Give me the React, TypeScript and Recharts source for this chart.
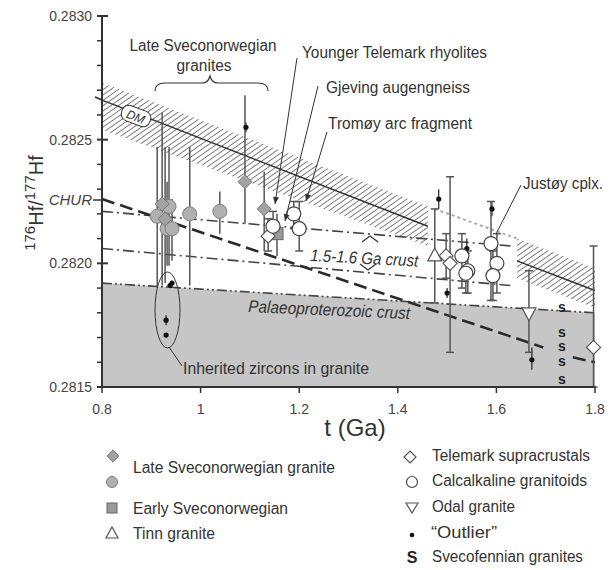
import { Area, ComposedChart, ErrorBar, Line, Scatter, XAxis, YAxis } from 'recharts';

const FONT = '"Liberation Sans", Arial, sans-serif';
const INK = '#333';

const xTicks = [0.8, 1, 1.2, 1.4, 1.6, 1.8];
const yTicks = [
  0.2815, 0.2816, 0.2817, 0.2818, 0.2819, 0.282, 0.2821, 0.2822,
  0.2823, 0.2824, 0.2825, 0.2826, 0.2827, 0.2828, 0.2829, 0.283,
];
const yMajor = [0.2815, 0.282, 0.2825, 0.283];

// model curves (t in Ga, v = 176Hf/177Hf)
const dmLine = [
  { t: 0.8, v: 0.28266 },
  { t: 1.461, v: 0.28215 },
];
const dmLineRight = [
  { t: 1.642, v: 0.28201 },
  { t: 1.8, v: 0.28189 },
];
const dmBand = [
  { t: 0.8, band: [0.28254, 0.28273] },
  { t: 1.461, band: [0.28207, 0.28223] },
];
const dmBandRight = [
  { t: 1.642, band: [0.28194, 0.2821] },
  { t: 1.8, band: [0.28182, 0.28198] },
];
const dmGapEdge = [
  { t: 1.475, v: 0.28222 },
  { t: 1.642, v: 0.2821 },
];
const churLine = [
  { t: 0.8, v: 0.28226 },
  { t: 1.695, v: 0.28166 },
];
const churLineRight = [
  { t: 1.755, v: 0.28162 },
  { t: 1.8, v: 0.2816 },
];
const crustUpper = [
  { t: 0.8, v: 0.28221 },
  { t: 1.63, v: 0.28207 },
];
const crustLower = [
  { t: 0.8, v: 0.28206 },
  { t: 1.63, v: 0.28191 },
];
const palaeoArea = [
  { t: 0.8, band: [0.2815, 0.28192] },
  { t: 1.8, band: [0.2815, 0.2818] },
];

// samples: value with the ends of its error bar
const lateCircles = [
  { t: 0.912, v: 0.28219, lo: 0.2819, hi: 0.28247 },
  { t: 0.936, v: 0.28223, lo: 0.28199, hi: 0.28247 },
  { t: 0.932, v: 0.28214, lo: 0.28199, hi: 0.28233 },
  { t: 0.942, v: 0.28214, lo: 0.28201, hi: 0.28226 },
  { t: 0.978, v: 0.2822, lo: 0.28191, hi: 0.28247 },
  { t: 1.039, v: 0.28221, lo: 0.28212, hi: 0.28229 },
];
const lateDiamonds = [
  { t: 0.922, v: 0.28224, lo: 0.28191, hi: 0.28261 },
  { t: 0.928, v: 0.28218, lo: 0.28192, hi: 0.28247 },
  { t: 1.09, v: 0.28233, lo: 0.28216, hi: 0.28268 },
  { t: 1.129, v: 0.28222, lo: 0.28205, hi: 0.28237 },
];
const earlySveco = [{ t: 1.155, v: 0.28212, lo: 0.28203, hi: 0.2822 }];
const tinnGranite = [{ t: 1.475, v: 0.28203, lo: 0.28184, hi: 0.28222 }];
const telemarkSupra = [
  { t: 1.137, v: 0.28211, lo: 0.28205, hi: 0.28218 },
  { t: 1.498, v: 0.28203, lo: 0.28194, hi: 0.28212 },
  { t: 1.506, v: 0.282, lo: 0.28164, hi: 0.28235 },
  { t: 1.797, v: 0.28166, lo: 0.2815, hi: 0.28207 },
];
const calcalkaline = [
  { t: 1.147, v: 0.28215, lo: 0.28211, hi: 0.28221 },
  { t: 1.189, v: 0.2822, lo: 0.28214, hi: 0.28225 },
  { t: 1.2, v: 0.28214, lo: 0.28205, hi: 0.28225 },
  { t: 1.53, v: 0.28203, lo: 0.2819, hi: 0.28212 },
  { t: 1.542, v: 0.28197, lo: 0.28188, hi: 0.28205 },
  { t: 1.538, v: 0.28196, lo: 0.28188, hi: 0.28204 },
  { t: 1.589, v: 0.28208, lo: 0.28185, hi: 0.28225 },
  { t: 1.601, v: 0.282, lo: 0.28188, hi: 0.28212 },
  { t: 1.593, v: 0.28195, lo: 0.28185, hi: 0.28205 },
];
const odalGranite = [{ t: 1.666, v: 0.2818, lo: 0.28164, hi: 0.28197 }];
const outliers = [
  { t: 1.092, v: 0.28255, lo: 0.28253, hi: 0.28257 },
  { t: 0.942, v: 0.28192, lo: 0.28191, hi: 0.28193 },
  { t: 0.938, v: 0.28191, lo: 0.2819, hi: 0.28192 },
  { t: 0.93, v: 0.28177, lo: 0.28175, hi: 0.28179 },
  { t: 0.93, v: 0.28171, lo: 0.28171, hi: 0.28171 },
  { t: 1.483, v: 0.28226, lo: 0.28222, hi: 0.2823 },
  { t: 1.5, v: 0.28188, lo: 0.28186, hi: 0.2819 },
  { t: 1.54, v: 0.28206, lo: 0.28202, hi: 0.2821 },
  { t: 1.591, v: 0.28222, lo: 0.28219, hi: 0.28225 },
  { t: 1.672, v: 0.28161, lo: 0.28157, hi: 0.28166 },
];
const svecofennian = [
  { t: 1.733, v: 0.28182 },
  { t: 1.733, v: 0.28172 },
  { t: 1.733, v: 0.28166 },
  { t: 1.733, v: 0.2816 },
  { t: 1.733, v: 0.28153 },
];

const withErr = (rows: { t: number; v: number; lo: number; hi: number }[]) =>
  rows.map((r) => ({ ...r, err: [r.v - r.lo, r.hi - r.v] }));

const diamondPts = (cx: number, cy: number, r: number) =>
  `${cx},${cy - r} ${cx + r},${cy} ${cx},${cy + r} ${cx - r},${cy}`;

const GrayDiamond = ({ cx, cy }: any) => (
  <polygon points={diamondPts(cx, cy, 7)} fill="#a3a3a3" stroke="#7a7a7a" strokeWidth={1} />
);
const GrayCircle = ({ cx, cy }: any) => <circle cx={cx} cy={cy} r={7} fill="#b0b0b0" stroke="#808080" strokeWidth={1} />;
const GraySquare = ({ cx, cy }: any) => (
  <rect x={cx - 6} y={cy - 6} width={12} height={12} fill="#9a9a9a" stroke="#666" strokeWidth={1} />
);
const OpenTriangle = ({ cx, cy }: any) => (
  <polygon points={`${cx},${cy - 8} ${cx + 7},${cy + 5} ${cx - 7},${cy + 5}`} fill="#fff" stroke="#555" strokeWidth={1.2} />
);
const OpenDownTriangle = ({ cx, cy }: any) => (
  <polygon points={`${cx},${cy + 8} ${cx + 7},${cy - 5} ${cx - 7},${cy - 5}`} fill="#fff" stroke="#555" strokeWidth={1.2} />
);
const OpenDiamond = ({ cx, cy }: any) => (
  <polygon points={diamondPts(cx, cy, 7)} fill="#fff" stroke="#555" strokeWidth={1.2} />
);
const OpenCircle = ({ cx, cy }: any) => <circle cx={cx} cy={cy} r={7} fill="#fff" stroke="#444" strokeWidth={1.2} />;
const Dot = ({ cx, cy }: any) => <circle cx={cx} cy={cy} r={2.6} fill="#111" />;
const SMark = ({ cx, cy }: any) => (
  <text x={cx} y={cy + 4} textAnchor="middle" fontSize={14} fontWeight="bold" fill="#222" fontFamily={FONT}>
    s
  </text>
);

function YTick(props: any) {
  const { x, y, payload } = props;
  const major = yMajor.some((m) => Math.abs(m - payload.value) < 1e-7);
  return (
    <g>
      <line x1={x - 5} x2={major ? x + 6 : x} y1={y} y2={y} stroke={INK} strokeWidth={major ? 2 : 1.5} />
      {major && (
        <text x={x - 10} y={y + 5} textAnchor="end" fontSize={14} fill="#444" fontFamily={FONT}>
          {payload.value.toFixed(4)}
        </text>
      )}
    </g>
  );
}

function XTick(props: any) {
  const { x, y, payload } = props;
  return (
    <g>
      <line x1={x} x2={x} y1={y} y2={y + 6} stroke={INK} strokeWidth={1.5} />
      <text x={x} y={y + 27} textAnchor="middle" fontSize={14} fill="#444" fontFamily={FONT}>
        {String(payload.value)}
      </text>
    </g>
  );
}

function Annotations() {
  const t = { fontFamily: FONT, fill: INK, fontSize: 16 } as const;
  return (
    <svg width={611} height={570} style={{ position: 'absolute', left: 0, top: 0, pointerEvents: 'none' }}>
      <defs>
        <marker id="arr" markerWidth="8" markerHeight="8" refX="7" refY="4" orient="auto" markerUnits="userSpaceOnUse">
          <path d="M0,1 L7,4 L0,7 Z" fill={INK} />
        </marker>
      </defs>

      {/* y axis title */}
      <text transform="rotate(-90, 43, 203)" x={43} y={203} textAnchor="middle" fontFamily={FONT} fill={INK} fontSize={20}>
        <tspan fontSize={15} dy={-8}>176</tspan>
        <tspan dy={8}>Hf/</tspan>
        <tspan fontSize={15} dy={-8}>177</tspan>
        <tspan dy={8}>Hf</tspan>
      </text>
      <text x={355} y={436} textAnchor="middle" fontFamily={FONT} fill={INK} fontSize={24}>
        t (Ga)
      </text>

      {/* CHUR / DM labels */}
      <text x={92} y={205} textAnchor="end" fontFamily={FONT} fill="#444" fontSize={15} fontStyle="italic">
        CHUR
      </text>
      <line x1={93} x2={102} y1={200} y2={200} stroke={INK} strokeWidth={1.5} />
      <line x1={95} x2={102} y1={97} y2={100} stroke={INK} strokeWidth={1.5} />
      <g transform="rotate(21, 136, 116)">
        <rect x={121} y={108} width={30} height={16} rx={7} fill="#fff" stroke={INK} strokeWidth={1} />
        <text x={136} y={121} textAnchor="middle" fontFamily={FONT} fill={INK} fontSize={12} fontStyle="italic">
          DM
        </text>
      </g>

      {/* group labels */}
      <text {...t} x={203} y={51} textAnchor="middle" textLength={147} lengthAdjust="spacingAndGlyphs">
        Late Sveconorwegian
      </text>
      <text {...t} x={204} y={71} textAnchor="middle" textLength={55} lengthAdjust="spacingAndGlyphs">
        granites
      </text>
      <path d="M155,91 Q155,83 165,83 L202,83 Q208,83 210,76 Q212,83 218,83 L258,83 Q268,83 268,91" fill="none" stroke={INK} strokeWidth={1.2} />

      <text {...t} x={302} y={58} textLength={185} lengthAdjust="spacingAndGlyphs">
        Younger Telemark rhyolites
      </text>
      <line x1={297} y1={58} x2={275} y2={204} stroke={INK} strokeWidth={1} markerEnd="url(#arr)" />
      <text {...t} x={326} y={93} textLength={144} lengthAdjust="spacingAndGlyphs">
        Gjeving augengneiss
      </text>
      <line x1={318} y1={86} x2={285} y2={221} stroke={INK} strokeWidth={1} markerEnd="url(#arr)" />
      <text {...t} x={328} y={129} textLength={144} lengthAdjust="spacingAndGlyphs">
        Tromøy arc fragment
      </text>
      <line x1={327} y1={132} x2={306} y2={201} stroke={INK} strokeWidth={1} markerEnd="url(#arr)" />
      <text {...t} x={523} y={189} textLength={80} lengthAdjust="spacingAndGlyphs">
        Justøy cplx.
      </text>
      <line x1={521} y1={185} x2={496} y2={234} stroke={INK} strokeWidth={1} />

      {/* crust labels */}
      <text {...t} x={310} y={261} fontSize={17} fontStyle="italic" transform="rotate(3, 310, 261)" textLength={108} lengthAdjust="spacingAndGlyphs">
        1.5-1.6 Ga crust
      </text>
      <path d="M362,242 L370,236 L378,242" fill="none" stroke={INK} strokeWidth={1.2} />
      <path d="M360,264 L368,270 L376,264" fill="none" stroke={INK} strokeWidth={1.2} />
      <text {...t} x={248} y={312} fontSize={17} fontStyle="italic" transform="rotate(2.5, 248, 312)" textLength={162} lengthAdjust="spacingAndGlyphs">
        Palaeoproterozoic crust
      </text>

      {/* inherited zircons */}
      <ellipse cx={167.5} cy={310} rx={12.5} ry={38} fill="none" stroke={INK} strokeWidth={1} />
      <line x1={169} y1={347} x2={182} y2={366} stroke={INK} strokeWidth={1} />
      <text {...t} x={183} y={374} textLength={186} lengthAdjust="spacingAndGlyphs">
        Inherited  zircons in granite
      </text>

      {/* legend */}
      <polygon points={diamondPts(113, 456, 6)} fill="#a3a3a3" stroke="#7a7a7a" strokeWidth={1} />
      <circle cx={112} cy={482} r={5.5} fill="#b0b0b0" stroke="#808080" strokeWidth={1} />
      <text {...t} x={133} y={473} textLength={202} lengthAdjust="spacingAndGlyphs">
        Late Sveconorwegian granite
      </text>
      <rect x={107} y={503} width={10} height={10} fill="#9a9a9a" stroke="#666" />
      <text {...t} x={133} y={514} textLength={155} lengthAdjust="spacingAndGlyphs">
        Early Sveconorwegian
      </text>
      <polygon points="112,527 118,538 106,538" fill="#fff" stroke="#555" strokeWidth={1.2} />
      <text {...t} x={133} y={539} textLength={82} lengthAdjust="spacingAndGlyphs">
        Tinn granite
      </text>

      <polygon points={diamondPts(410, 457, 6)} fill="#fff" stroke="#555" strokeWidth={1.2} />
      <text {...t} x={432} y={461} textLength={158} lengthAdjust="spacingAndGlyphs">
        Telemark supracrustals
      </text>
      <circle cx={412} cy={482} r={5.5} fill="#fff" stroke="#444" strokeWidth={1.2} />
      <text {...t} x={432} y={486} textLength={155} lengthAdjust="spacingAndGlyphs">
        Calcalkaline granitoids
      </text>
      <polygon points="412,513 418,503 406,503" fill="#fff" stroke="#555" strokeWidth={1.2} />
      <text {...t} x={432} y={512} textLength={83} lengthAdjust="spacingAndGlyphs">
        Odal granite
      </text>
      <circle cx={412} cy={535} r={2.3} fill="#111" />
      <text {...t} x={431} y={538} textLength={66} lengthAdjust="spacingAndGlyphs">
        “Outlier”
      </text>
      <text x={412} y={563} textAnchor="middle" fontFamily={FONT} fill="#222" fontSize={16} fontWeight="bold">
        S
      </text>
      <text {...t} x={432} y={562} textLength={151} lengthAdjust="spacingAndGlyphs">
        Svecofennian granites
      </text>
    </svg>
  );
}

export default function App() {
  const errStroke = '#555';
  return (
    <div style={{ position: 'absolute', left: 0, top: 0, width: 611, height: 570, background: '#fff' }}>
      <svg width={0} height={0} style={{ position: 'absolute' }}>
        <defs>
          <pattern id="hatch" width="4.4" height="4.4" patternUnits="userSpaceOnUse" patternTransform="rotate(55)">
            <line x1={0} y1={0} x2={0} y2={4.4} stroke="#3c3c3c" strokeWidth={1.3} />
          </pattern>
        </defs>
      </svg>
      <ComposedChart width={611} height={570} margin={{ top: 16, right: 16, bottom: 143, left: 0 }}>
        <XAxis
          type="number"
          dataKey="t"
          domain={[0.8, 1.8]}
          ticks={xTicks}
          interval={0}
          height={40}
          tickSize={0}
          tickMargin={0}
          tickLine={false}
          axisLine={{ stroke: INK, strokeWidth: 2 }}
          tick={<XTick />}
        />
        <YAxis
          type="number"
          domain={[0.2815, 0.283]}
          ticks={yTicks}
          interval={0}
          width={102}
          tickSize={0}
          tickMargin={0}
          tickLine={false}
          axisLine={{ stroke: INK, strokeWidth: 2 }}
          tick={<YTick />}
        />

        <Area data={palaeoArea} dataKey="band" type="linear" fill="#c6c6c6" fillOpacity={1} stroke="none" isAnimationActive={false} />
        <Area data={dmBand} dataKey="band" type="linear" fill="url(#hatch)" fillOpacity={1} stroke="none" isAnimationActive={false} />
        <Area data={dmBandRight} dataKey="band" type="linear" fill="url(#hatch)" fillOpacity={1} stroke="none" isAnimationActive={false} />

        <Line data={palaeoArea.map((d) => ({ t: d.t, v: d.band[1] }))} dataKey="v" type="linear" stroke="#444" strokeWidth={1.6} strokeDasharray="10 3 2 3 2 3" dot={false} isAnimationActive={false} />
        <Line data={crustUpper} dataKey="v" type="linear" stroke="#444" strokeWidth={1.6} strokeDasharray="11 4 2 4" dot={false} isAnimationActive={false} />
        <Line data={crustLower} dataKey="v" type="linear" stroke="#444" strokeWidth={1.6} strokeDasharray="11 4 2 4" dot={false} isAnimationActive={false} />
        <Line data={dmGapEdge} dataKey="v" type="linear" stroke="#aaa" strokeWidth={2} strokeDasharray="3 3" dot={false} isAnimationActive={false} />
        <Line data={dmLine} dataKey="v" type="linear" stroke={INK} strokeWidth={1.5} dot={false} isAnimationActive={false} />
        <Line data={dmLineRight} dataKey="v" type="linear" stroke={INK} strokeWidth={1.5} dot={false} isAnimationActive={false} />
        <Line data={churLine} dataKey="v" type="linear" stroke="#2a2a2a" strokeWidth={2.6} strokeDasharray="13 6" dot={false} isAnimationActive={false} />
        <Line data={churLineRight} dataKey="v" type="linear" stroke="#2a2a2a" strokeWidth={2.6} strokeDasharray="13 6" dot={false} isAnimationActive={false} />

        <Scatter data={withErr(outliers)} dataKey="v" shape={Dot} isAnimationActive={false}>
          <ErrorBar dataKey="err" direction="y" width={0} stroke="#222" strokeWidth={1.2} />
        </Scatter>
        <Scatter data={withErr(lateCircles)} dataKey="v" shape={GrayCircle} isAnimationActive={false}>
          <ErrorBar dataKey="err" direction="y" width={0} stroke={errStroke} strokeWidth={1.5} />
        </Scatter>
        <Scatter data={withErr(lateDiamonds)} dataKey="v" shape={GrayDiamond} isAnimationActive={false}>
          <ErrorBar dataKey="err" direction="y" width={0} stroke={errStroke} strokeWidth={1.5} />
        </Scatter>
        <Scatter data={withErr(earlySveco)} dataKey="v" shape={GraySquare} isAnimationActive={false}>
          <ErrorBar dataKey="err" direction="y" width={0} stroke={errStroke} strokeWidth={1.5} />
        </Scatter>
        <Scatter data={withErr(telemarkSupra)} dataKey="v" shape={OpenDiamond} isAnimationActive={false}>
          <ErrorBar dataKey="err" direction="y" width={4} stroke={errStroke} strokeWidth={1.5} />
        </Scatter>
        <Scatter data={withErr(calcalkaline)} dataKey="v" shape={OpenCircle} isAnimationActive={false}>
          <ErrorBar dataKey="err" direction="y" width={4} stroke={errStroke} strokeWidth={1.5} />
        </Scatter>
        <Scatter data={withErr(tinnGranite)} dataKey="v" shape={OpenTriangle} isAnimationActive={false}>
          <ErrorBar dataKey="err" direction="y" width={4} stroke={errStroke} strokeWidth={1.5} />
        </Scatter>
        <Scatter data={withErr(odalGranite)} dataKey="v" shape={OpenDownTriangle} isAnimationActive={false}>
          <ErrorBar dataKey="err" direction="y" width={4} stroke={errStroke} strokeWidth={1.5} />
        </Scatter>
        <Scatter data={svecofennian} dataKey="v" shape={SMark} isAnimationActive={false} />
      </ComposedChart>
      <Annotations />
    </div>
  );
}
